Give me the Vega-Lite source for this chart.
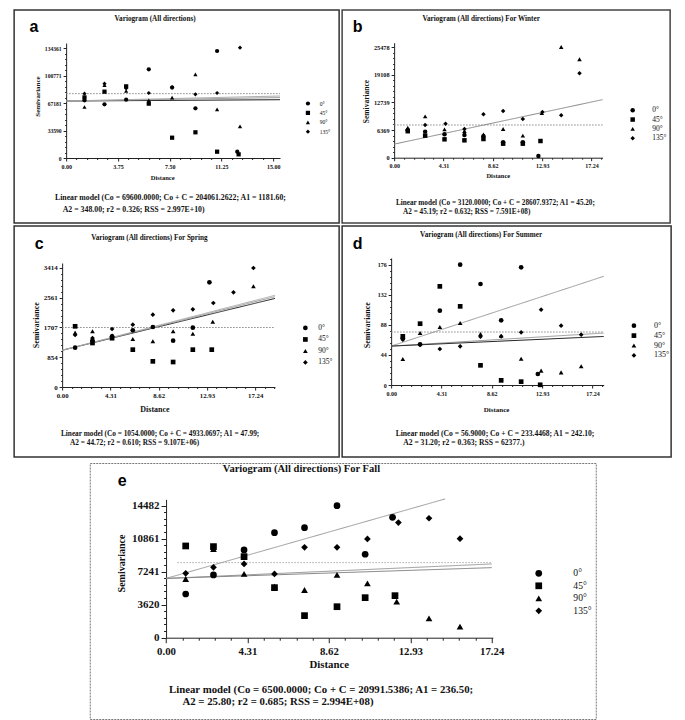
{
  "$schema": "https://vega.github.io/schema/vega-lite/v6.json",
  "padding": {"left": 13, "top": 9, "right": 0, "bottom": 0},
  "background": "white",
  "config": {
    "axis": {"labelFont": "Liberation Serif", "titleFont": "Liberation Serif", "labelFontWeight": "bold", "titleFontWeight": "bold", "labelColor": "#111", "titleColor": "#111", "domainColor": "#222", "tickColor": "#222", "grid": false, "labelFlush": false, "labelOverlap": false, "labelPadding": 2, "tickSize": 3, "domainWidth": 1, "tickWidth": 1},
    "legend": {"orient": "none", "title": null, "padding": 0, "labelFont": "Liberation Serif", "labelColor": "#111", "symbolFillColor": "black", "symbolStrokeColor": "black", "symbolStrokeWidth": 0}
  },
  "datasets": {
    "pointsA": [
      {"dist": 1.33, "semivariance": 70400, "direction": "0°"}, {"dist": 1.33, "semivariance": 74000, "direction": "45°"}, {"dist": 1.33, "semivariance": 62300, "direction": "90°"}, {"dist": 1.33, "semivariance": 78600, "direction": "135°"},
      {"dist": 2.78, "semivariance": 65550, "direction": "0°"}, {"dist": 2.78, "semivariance": 81000, "direction": "45°"}, {"dist": 2.78, "semivariance": 89000, "direction": "90°"}, {"dist": 2.78, "semivariance": 90800, "direction": "135°"},
      {"dist": 4.35, "semivariance": 71250, "direction": "0°"}, {"dist": 4.35, "semivariance": 87500, "direction": "45°"}, {"dist": 4.35, "semivariance": 81800, "direction": "90°"}, {"dist": 4.35, "semivariance": 85100, "direction": "135°"},
      {"dist": 5.99, "semivariance": 108300, "direction": "0°"}, {"dist": 5.99, "semivariance": 66400, "direction": "45°"}, {"dist": 5.99, "semivariance": 70400, "direction": "90°"}, {"dist": 5.99, "semivariance": 79400, "direction": "135°"},
      {"dist": 7.68, "semivariance": 86000, "direction": "0°"}, {"dist": 7.68, "semivariance": 24800, "direction": "45°"}, {"dist": 7.68, "semivariance": 73700, "direction": "90°"}, {"dist": 7.68, "semivariance": 86600, "direction": "135°"},
      {"dist": 9.37, "semivariance": 60700, "direction": "0°"}, {"dist": 9.37, "semivariance": 31400, "direction": "45°"}, {"dist": 9.37, "semivariance": 102200, "direction": "90°"}, {"dist": 9.37, "semivariance": 77800, "direction": "135°"},
      {"dist": 10.94, "semivariance": 130700, "direction": "0°"}, {"dist": 10.94, "semivariance": 7700, "direction": "45°"}, {"dist": 10.94, "semivariance": 59500, "direction": "90°"}, {"dist": 10.94, "semivariance": 79400, "direction": "135°"},
      {"dist": 12.4, "semivariance": 7700, "direction": "0°"}, {"dist": 12.5, "semivariance": 4500, "direction": "45°"}, {"dist": 12.6, "semivariance": 38700, "direction": "90°"}, {"dist": 12.6, "semivariance": 134800, "direction": "135°"}
    ],
    "linesA": [
      {"model": "fit1", "dist": 0, "semivariance": 69600}, {"model": "fit1", "dist": 15.5, "semivariance": 71200},
      {"model": "fit2", "dist": 0, "semivariance": 69600}, {"model": "fit2", "dist": 15.5, "semivariance": 73800},
      {"model": "fit3", "dist": 0, "semivariance": 69600}, {"model": "fit3", "dist": 15.5, "semivariance": 75700},
      {"model": "variance", "dist": 0, "semivariance": 78600}, {"model": "variance", "dist": 15.5, "semivariance": 78600}
    ],
    "pointsB": [
      {"dist": 1.19, "semivariance": 6300, "direction": "0°"}, {"dist": 1.19, "semivariance": 6100, "direction": "45°"}, {"dist": 1.19, "semivariance": 6900, "direction": "90°"}, {"dist": 1.19, "semivariance": 6500, "direction": "135°"},
      {"dist": 2.71, "semivariance": 6000, "direction": "0°"}, {"dist": 2.71, "semivariance": 5070, "direction": "45°"}, {"dist": 2.71, "semivariance": 9520, "direction": "90°"}, {"dist": 2.71, "semivariance": 7530, "direction": "135°"},
      {"dist": 4.4, "semivariance": 5380, "direction": "0°"}, {"dist": 4.4, "semivariance": 4230, "direction": "45°"}, {"dist": 4.4, "semivariance": 6530, "direction": "90°"}, {"dist": 4.49, "semivariance": 7835, "direction": "135°"},
      {"dist": 6.14, "semivariance": 5225, "direction": "0°"}, {"dist": 6.14, "semivariance": 4000, "direction": "45°"}, {"dist": 6.14, "semivariance": 6150, "direction": "90°"}, {"dist": 6.14, "semivariance": 6600, "direction": "135°"},
      {"dist": 7.8, "semivariance": 4920, "direction": "0°"}, {"dist": 7.8, "semivariance": 4300, "direction": "45°"}, {"dist": 7.8, "semivariance": 5380, "direction": "90°"}, {"dist": 7.8, "semivariance": 9980, "direction": "135°"},
      {"dist": 9.52, "semivariance": 3540, "direction": "0°"}, {"dist": 9.52, "semivariance": 3230, "direction": "45°"}, {"dist": 9.52, "semivariance": 6600, "direction": "90°"}, {"dist": 9.52, "semivariance": 10750, "direction": "135°"},
      {"dist": 11.24, "semivariance": 3540, "direction": "0°"}, {"dist": 11.24, "semivariance": 3230, "direction": "45°"}, {"dist": 11.24, "semivariance": 5070, "direction": "90°"}, {"dist": 11.24, "semivariance": 8900, "direction": "135°"},
      {"dist": 12.6, "semivariance": 390, "direction": "0°"}, {"dist": 12.78, "semivariance": 3840, "direction": "45°"}, {"dist": 12.9, "semivariance": 10300, "direction": "90°"}, {"dist": 12.95, "semivariance": 10520, "direction": "135°"},
      {"dist": 14.59, "semivariance": 25480, "direction": "90°"}, {"dist": 14.59, "semivariance": 9750, "direction": "135°"},
      {"dist": 16.19, "semivariance": 22650, "direction": "90°"}, {"dist": 16.19, "semivariance": 19420, "direction": "135°"}
    ],
    "linesB": [
      {"model": "fit1", "dist": 0, "semivariance": 3120}, {"model": "fit1", "dist": 18.2, "semivariance": 13360},
      {"model": "variance", "dist": 0, "semivariance": 7530}, {"model": "variance", "dist": 18.2, "semivariance": 7530}
    ],
    "pointsC": [
      {"dist": 1.16, "semivariance": 1128, "direction": "0°"}, {"dist": 1.16, "semivariance": 1741, "direction": "45°"}, {"dist": 1.16, "semivariance": 1560, "direction": "90°"}, {"dist": 1.16, "semivariance": 1492, "direction": "135°"},
      {"dist": 2.71, "semivariance": 1340, "direction": "0°"}, {"dist": 2.71, "semivariance": 1262, "direction": "45°"}, {"dist": 2.71, "semivariance": 1597, "direction": "90°"}, {"dist": 2.71, "semivariance": 1406, "direction": "135°"},
      {"dist": 4.46, "semivariance": 1450, "direction": "0°"}, {"dist": 4.46, "semivariance": 1400, "direction": "45°"}, {"dist": 4.46, "semivariance": 1480, "direction": "90°"}, {"dist": 4.46, "semivariance": 1664, "direction": "135°"},
      {"dist": 6.31, "semivariance": 1626, "direction": "0°"}, {"dist": 6.31, "semivariance": 1071, "direction": "45°"}, {"dist": 6.31, "semivariance": 1377, "direction": "90°"}, {"dist": 6.31, "semivariance": 1788, "direction": "135°"},
      {"dist": 8.1, "semivariance": 1721, "direction": "0°"}, {"dist": 8.1, "semivariance": 736, "direction": "45°"}, {"dist": 8.1, "semivariance": 1310, "direction": "90°"}, {"dist": 8.1, "semivariance": 2075, "direction": "135°"},
      {"dist": 9.91, "semivariance": 1330, "direction": "0°"}, {"dist": 9.91, "semivariance": 717, "direction": "45°"}, {"dist": 9.91, "semivariance": 1597, "direction": "90°"}, {"dist": 9.91, "semivariance": 2200, "direction": "135°"},
      {"dist": 11.67, "semivariance": 1702, "direction": "0°"}, {"dist": 11.67, "semivariance": 1071, "direction": "45°"}, {"dist": 11.67, "semivariance": 1530, "direction": "90°"}, {"dist": 11.67, "semivariance": 2228, "direction": "135°"},
      {"dist": 13.15, "semivariance": 3003, "direction": "0°"}, {"dist": 13.36, "semivariance": 1071, "direction": "45°"}, {"dist": 13.45, "semivariance": 1874, "direction": "90°"}, {"dist": 13.5, "semivariance": 2410, "direction": "135°"},
      {"dist": 15.3, "semivariance": 2716, "direction": "135°"},
      {"dist": 17.08, "semivariance": 2888, "direction": "90°"}, {"dist": 17.08, "semivariance": 3414, "direction": "135°"}
    ],
    "linesC": [
      {"model": "fit1", "dist": 0, "semivariance": 1054}, {"model": "fit1", "dist": 19, "semivariance": 2540},
      {"model": "fit2", "dist": 0, "semivariance": 1054}, {"model": "fit2", "dist": 19, "semivariance": 2590},
      {"model": "fit3", "dist": 0, "semivariance": 1054}, {"model": "fit3", "dist": 19, "semivariance": 2630},
      {"model": "variance", "dist": 0, "semivariance": 1707}, {"model": "variance", "dist": 19, "semivariance": 1707}
    ],
    "pointsD": [
      {"dist": 1.0, "semivariance": 68.5, "direction": "0°"}, {"dist": 1.0, "semivariance": 71.2, "direction": "45°"}, {"dist": 1.0, "semivariance": 38.0, "direction": "90°"}, {"dist": 1.0, "semivariance": 66.3, "direction": "135°"},
      {"dist": 2.48, "semivariance": 59.5, "direction": "0°"}, {"dist": 2.48, "semivariance": 89.7, "direction": "45°"}, {"dist": 2.48, "semivariance": 76.1, "direction": "90°"}, {"dist": 2.48, "semivariance": 58.5, "direction": "135°"},
      {"dist": 4.17, "semivariance": 108.7, "direction": "0°"}, {"dist": 4.17, "semivariance": 144.3, "direction": "45°"}, {"dist": 4.17, "semivariance": 84.9, "direction": "90°"}, {"dist": 4.17, "semivariance": 52.7, "direction": "135°"},
      {"dist": 5.91, "semivariance": 176.0, "direction": "0°"}, {"dist": 5.91, "semivariance": 115.1, "direction": "45°"}, {"dist": 5.91, "semivariance": 90.7, "direction": "90°"}, {"dist": 5.91, "semivariance": 56.6, "direction": "135°"},
      {"dist": 7.65, "semivariance": 147.8, "direction": "0°"}, {"dist": 7.65, "semivariance": 28.8, "direction": "45°"}, {"dist": 7.65, "semivariance": 74.6, "direction": "90°"}, {"dist": 7.65, "semivariance": 70.7, "direction": "135°"},
      {"dist": 9.42, "semivariance": 94.6, "direction": "0°"}, {"dist": 9.42, "semivariance": 6.8, "direction": "45°"}, {"dist": 9.42, "semivariance": 72.0, "direction": "90°"}, {"dist": 9.42, "semivariance": 71.2, "direction": "135°"},
      {"dist": 11.13, "semivariance": 172.1, "direction": "0°"}, {"dist": 11.13, "semivariance": 4.9, "direction": "45°"}, {"dist": 11.13, "semivariance": 38.5, "direction": "90°"}, {"dist": 11.13, "semivariance": 77.1, "direction": "135°"},
      {"dist": 12.56, "semivariance": 16.1, "direction": "0°"}, {"dist": 12.76, "semivariance": 0.3, "direction": "45°"}, {"dist": 12.84, "semivariance": 21.0, "direction": "90°"}, {"dist": 12.84, "semivariance": 110.2, "direction": "135°"},
      {"dist": 14.55, "semivariance": 18.5, "direction": "90°"}, {"dist": 14.55, "semivariance": 86.8, "direction": "135°"},
      {"dist": 16.27, "semivariance": 27.3, "direction": "90°"}, {"dist": 16.27, "semivariance": 73.6, "direction": "135°"}
    ],
    "linesD": [
      {"model": "fit1", "dist": 0, "semivariance": 56.9}, {"model": "fit1", "dist": 18.2, "semivariance": 159},
      {"model": "fit2", "dist": 0, "semivariance": 56.9}, {"model": "fit2", "dist": 18.2, "semivariance": 76},
      {"model": "fit3", "dist": 0, "semivariance": 56.9}, {"model": "fit3", "dist": 18.2, "semivariance": 71},
      {"model": "variance", "dist": 0, "semivariance": 77.5}, {"model": "variance", "dist": 18.2, "semivariance": 77.5}
    ],
    "pointsE": [
      {"dist": 1.04, "semivariance": 4790, "direction": "0°"}, {"dist": 1.04, "semivariance": 10060, "direction": "45°"}, {"dist": 1.04, "semivariance": 6440, "direction": "90°"}, {"dist": 1.04, "semivariance": 7060, "direction": "135°"},
      {"dist": 2.51, "semivariance": 6880, "direction": "0°"}, {"dist": 2.51, "semivariance": 9990, "direction": "45°"}, {"dist": 2.51, "semivariance": 9730, "direction": "90°"}, {"dist": 2.51, "semivariance": 7720, "direction": "135°"},
      {"dist": 4.13, "semivariance": 9620, "direction": "0°"}, {"dist": 4.13, "semivariance": 8890, "direction": "45°"}, {"dist": 4.13, "semivariance": 6990, "direction": "90°"}, {"dist": 4.13, "semivariance": 8090, "direction": "135°"},
      {"dist": 5.74, "semivariance": 11520, "direction": "0°"}, {"dist": 5.74, "semivariance": 5490, "direction": "45°"}, {"dist": 5.74, "semivariance": 5600, "direction": "90°"}, {"dist": 5.74, "semivariance": 6990, "direction": "135°"},
      {"dist": 7.33, "semivariance": 12070, "direction": "0°"}, {"dist": 7.33, "semivariance": 2420, "direction": "45°"}, {"dist": 7.33, "semivariance": 5230, "direction": "90°"}, {"dist": 7.33, "semivariance": 9910, "direction": "135°"},
      {"dist": 9.05, "semivariance": 14480, "direction": "0°"}, {"dist": 9.05, "semivariance": 3400, "direction": "45°"}, {"dist": 9.05, "semivariance": 6880, "direction": "90°"}, {"dist": 9.05, "semivariance": 9910, "direction": "135°"},
      {"dist": 10.54, "semivariance": 9150, "direction": "0°"}, {"dist": 10.54, "semivariance": 4390, "direction": "45°"}, {"dist": 10.66, "semivariance": 5960, "direction": "90°"}, {"dist": 10.66, "semivariance": 10830, "direction": "135°"},
      {"dist": 11.99, "semivariance": 13200, "direction": "0°"}, {"dist": 12.12, "semivariance": 4610, "direction": "45°"}, {"dist": 12.21, "semivariance": 3950, "direction": "90°"}, {"dist": 12.3, "semivariance": 12620, "direction": "135°"},
      {"dist": 13.92, "semivariance": 2125, "direction": "90°"}, {"dist": 13.92, "semivariance": 13100, "direction": "135°"},
      {"dist": 15.56, "semivariance": 1210, "direction": "90°"}, {"dist": 15.56, "semivariance": 10860, "direction": "135°"}
    ],
    "linesE": [
      {"model": "fit1", "dist": 0, "semivariance": 6500}, {"model": "fit1", "dist": 14.77, "semivariance": 15215},
      {"model": "fit2", "dist": 0, "semivariance": 6500}, {"model": "fit2", "dist": 17.24, "semivariance": 8085},
      {"model": "fit3", "dist": 0, "semivariance": 6500}, {"model": "fit3", "dist": 17.24, "semivariance": 7682},
      {"model": "variance", "dist": 0.6, "semivariance": 8230}, {"model": "variance", "dist": 17.24, "semivariance": 8230}
    ]
  },
  "vconcat": [
    {
      "vconcat": [
        {
          "hconcat": [
            {
              "width": 325, "height": 213,
              "view": {"stroke": "#333", "strokeWidth": 1.5},
              "title": {"text": "Variogram (All directions)", "frame": "group", "anchor": "middle", "dx": -21.5, "offset": -16, "baseline": "middle", "font": "Liberation Serif", "fontSize": 7.2, "fontWeight": "bold", "color": "#111"},
              "resolve": {"axis": {"x": "independent", "y": "independent"}},
              "layer": [
                {
                  "data": {"name": "linesA"},
                  "mark": {"type": "line", "strokeWidth": 1},
                  "encoding": {
                    "x": {"field": "dist", "type": "quantitative", "scale": {"domain": [0, 15.5], "range": [52, 265.9], "nice": false, "zero": false},
                      "axis": {"orient": "bottom", "offset": -65, "values": [0.75,1.5,2.25,3,4.5,5.25,6,6.75,8.25,9,9.75,10.5,12,12.75,13.5,14.25], "labels": false, "domain": false, "tickSize": 1.5,
                        "title": ["Linear model (Co = 69600.0000; Co + C = 204061.2622; A1 = 1181.60;", "\u200b\u00a0\u00a0\u00a0\u00a0A2 = 348.00; r2 = 0.326; RSS = 2.997E+10)"],
                        "titleX": 40.3, "titleY": 35.3, "titleAlign": "left", "titleBaseline": "top", "titleFontSize": 7.8, "titleLineHeight": 12}},
                    "y": {"field": "semivariance", "type": "quantitative", "scale": {"domain": [0, 140470], "range": [148, 33], "nice": false, "zero": false},
                      "axis": {"orient": "left", "offset": -52, "values": [6718,13436,20154,26872,40308,47026,53744,60462,73899,80617,87335,94053,107489,114207,120925,127643], "labels": false, "domain": false, "tickSize": 1.5,
                        "title": "a", "titleAngle": 0, "titleX": -32.7, "titleY": 16.5, "titleAlign": "center", "titleBaseline": "middle", "titleFont": "Liberation Sans", "titleFontSize": 16, "titleFontWeight": "bold", "titleColor": "black"}},
                    "color": {"field": "model", "type": "nominal", "scale": {"domain": ["fit1","fit2","fit3","variance"], "range": ["#111","#999","#aaa","#888"]}, "legend": null},
                    "strokeDash": {"field": "model", "type": "nominal", "scale": {"domain": ["fit1","fit2","fit3","variance"], "range": [[1,0],[1,0],[1,0],[1.5,1.5]]}, "legend": null}
                  }
                },
                {
                  "data": {"name": "pointsA"},
                  "mark": {"type": "point", "filled": true, "opacity": 1, "size": 18, "color": "black"},
                  "encoding": {
                    "x": {"field": "dist", "type": "quantitative", "scale": {"domain": [0, 15.5], "range": [52, 265.9], "nice": false, "zero": false},
                      "axis": {"orient": "bottom", "offset": -65, "values": [0, 3.75, 7.5, 11.25, 15], "format": ".2f", "labelFontSize": 6, "title": "Distance", "titleX": 148, "titleY": 19.7, "titleAlign": "center", "titleBaseline": "middle", "titleFontSize": 6.5}},
                    "y": {"field": "semivariance", "type": "quantitative", "scale": {"domain": [0, 140470], "range": [148, 33], "nice": false, "zero": false},
                      "axis": {"orient": "left", "offset": -52, "values": [0, 33590, 67181, 100771, 134361], "format": "d", "labelFontSize": 5.6, "title": "Semivariance", "titleX": -29, "titleY": 86, "titleAngle": -90, "titleAlign": "center", "titleBaseline": "middle", "titleFontSize": 7}},
                    "shape": {"field": "direction", "type": "nominal", "scale": {"domain": ["0°","45°","90°","135°"], "range": ["circle","square","triangle-up","diamond"]},
                      "legend": {"legendX": 291, "legendY": 90.7, "symbolSize": 18, "labelFontSize": 5.6, "labelOffset": 9, "rowPadding": 2.4}}
                  }
                }
              ]
            },
            {
              "width": 328, "height": 213,
              "view": {"stroke": "#444", "strokeWidth": 1.5},
              "title": {"text": "Variogram (All directions) For Winter", "frame": "group", "anchor": "middle", "dx": -25, "offset": -16, "baseline": "middle", "font": "Liberation Serif", "fontSize": 7.2, "fontWeight": "bold", "color": "#111"},
              "resolve": {"axis": {"x": "independent", "y": "independent"}},
              "layer": [
                {
                  "data": {"name": "linesB"},
                  "mark": {"type": "line", "strokeWidth": 1},
                  "encoding": {
                    "x": {"field": "dist", "type": "quantitative", "scale": {"domain": [0, 18.2], "range": [52, 260.4], "nice": false, "zero": false},
                      "axis": {"orient": "bottom", "offset": -65.3, "values": [0.862,1.724,2.586,3.448,5.172,6.034,6.896,7.758,9.482,10.344,11.206,12.068,13.792,14.654,15.516,16.378,18.102], "labels": false, "domain": false, "tickSize": 1.5,
                        "title": ["Linear model (Co = 3120.0000; Co + C = 28607.9372; A1 = 45.20;", "\u200b\u00a0\u00a0\u00a0\u00a0A2 = 45.19; r2 = 0.632; RSS = 7.591E+08)"],
                        "titleX": 53.3, "titleY": 40.5, "titleAlign": "left", "titleBaseline": "top", "titleFontSize": 7.2, "titleLineHeight": 9.5}},
                    "y": {"field": "semivariance", "type": "quantitative", "scale": {"domain": [0, 26470], "range": [147.7, 32.7], "nice": false, "zero": false},
                      "axis": {"orient": "left", "offset": -52, "values": [1274,2548,3822,5096,7643,8917,10191,11465,14013,15287,16561,17835,20382,21656,22930,24204], "labels": false, "domain": false, "tickSize": 1.5,
                        "title": "b", "titleAngle": 0, "titleX": -37, "titleY": 16, "titleAlign": "center", "titleBaseline": "middle", "titleFont": "Liberation Sans", "titleFontSize": 16, "titleFontWeight": "bold", "titleColor": "black"}},
                    "color": {"field": "model", "type": "nominal", "scale": {"domain": ["fit1","variance"], "range": ["#888","#888"]}, "legend": null},
                    "strokeDash": {"field": "model", "type": "nominal", "scale": {"domain": ["fit1","variance"], "range": [[1,0],[1.5,1.5]]}, "legend": null}
                  }
                },
                {
                  "data": {"name": "pointsB"},
                  "mark": {"type": "point", "filled": true, "opacity": 1, "size": 20, "color": "black"},
                  "encoding": {
                    "x": {"field": "dist", "type": "quantitative", "scale": {"domain": [0, 18.2], "range": [52, 260.4], "nice": false, "zero": false},
                      "axis": {"orient": "bottom", "offset": -65.3, "values": [0, 4.31, 8.62, 12.93, 17.24], "format": ".2f", "labelFontSize": 6, "title": "Distance", "titleX": 155.7, "titleY": 17.3, "titleAlign": "center", "titleBaseline": "middle", "titleFontSize": 6.5}},
                    "y": {"field": "semivariance", "type": "quantitative", "scale": {"domain": [0, 26470], "range": [147.7, 32.7], "nice": false, "zero": false},
                      "axis": {"orient": "left", "offset": -52, "values": [0, 6369, 12739, 19108, 25478], "format": "d", "labelFontSize": 6.3, "title": "Semivariance", "titleX": -28, "titleY": 91, "titleAngle": -90, "titleAlign": "center", "titleBaseline": "middle", "titleFontSize": 7.5}},
                    "shape": {"field": "direction", "type": "nominal", "scale": {"domain": ["0°","45°","90°","135°"], "range": ["circle","square","triangle-up","diamond"]},
                      "legend": {"legendX": 286.8, "legendY": 96.5, "symbolSize": 20, "labelFontSize": 7.5, "labelOffset": 15.7, "rowPadding": 0.3}}
                  }
                }
              ]
            }
          ],
          "spacing": 3, "bounds": "flush",
          "resolve": {"scale": {"color": "independent", "strokeDash": "independent", "shape": "independent"}, "legend": {"shape": "independent", "color": "independent", "strokeDash": "independent"}}
        },
        {
          "hconcat": [
            {
              "width": 325, "height": 231,
              "view": {"stroke": "#333", "strokeWidth": 1.5},
              "title": {"text": "Variogram (All directions) For Spring", "frame": "group", "anchor": "middle", "dx": -27.2, "offset": -19.5, "baseline": "middle", "font": "Liberation Serif", "fontSize": 7.2, "fontWeight": "bold", "color": "#111"},
              "resolve": {"axis": {"x": "independent", "y": "independent"}},
              "layer": [
                {
                  "data": {"name": "linesC"},
                  "mark": {"type": "line", "strokeWidth": 1},
                  "encoding": {
                    "x": {"field": "dist", "type": "quantitative", "scale": {"domain": [0, 19], "range": [48, 260.8], "nice": false, "zero": false},
                      "axis": {"orient": "bottom", "offset": -70, "values": [0.862,1.724,2.586,3.448,5.172,6.034,6.896,7.758,9.482,10.344,11.206,12.068,13.792,14.654,15.516,16.378,18.102,18.964], "labels": false, "domain": false, "tickSize": 1.5,
                        "title": ["Linear model (Co = 1054.0000; Co + C = 4933.0697; A1 = 47.99;", "\u200b\u00a0\u00a0\u00a0\u00a0\u00a0A2 = 44.72; r2 = 0.610; RSS = 9.107E+06)"],
                        "titleX": 46.3, "titleY": 42.3, "titleAlign": "left", "titleBaseline": "top", "titleFontSize": 7.3, "titleLineHeight": 9.7}},
                    "y": {"field": "semivariance", "type": "quantitative", "scale": {"domain": [0, 3557], "range": [161, 37], "nice": false, "zero": false},
                      "axis": {"orient": "left", "offset": -48, "values": [171,341,512,683,1024,1195,1366,1536,1878,2048,2219,2390,2731,2902,3073,3243], "labels": false, "domain": false, "tickSize": 1.5,
                        "title": "c", "titleAngle": 0, "titleX": -23.3, "titleY": 17.7, "titleAlign": "center", "titleBaseline": "middle", "titleFont": "Liberation Sans", "titleFontSize": 16, "titleFontWeight": "bold", "titleColor": "black"}},
                    "color": {"field": "model", "type": "nominal", "scale": {"domain": ["fit1","fit2","fit3","variance"], "range": ["#222","#999","#aaa","#888"]}, "legend": null},
                    "strokeDash": {"field": "model", "type": "nominal", "scale": {"domain": ["fit1","fit2","fit3","variance"], "range": [[1,0],[1,0],[1,0],[1.5,1.5]]}, "legend": null}
                  }
                },
                {
                  "data": {"name": "pointsC"},
                  "mark": {"type": "point", "filled": true, "opacity": 1, "size": 22, "color": "black"},
                  "encoding": {
                    "x": {"field": "dist", "type": "quantitative", "scale": {"domain": [0, 19], "range": [48, 260.8], "nice": false, "zero": false},
                      "axis": {"orient": "bottom", "offset": -70, "values": [0, 4.31, 8.62, 12.93, 17.24], "format": ".2f", "labelFontSize": 6.8, "title": "Distance", "titleX": 140.3, "titleY": 22.7, "titleAlign": "center", "titleBaseline": "middle", "titleFontSize": 8}},
                    "y": {"field": "semivariance", "type": "quantitative", "scale": {"domain": [0, 3557], "range": [161, 37], "nice": false, "zero": false},
                      "axis": {"orient": "left", "offset": -48, "values": [0, 854, 1707, 2561, 3414], "format": "d", "labelFontSize": 7, "title": "Semivariance", "titleX": -26, "titleY": 98.7, "titleAngle": -90, "titleAlign": "center", "titleBaseline": "middle", "titleFontSize": 8}},
                    "shape": {"field": "direction", "type": "nominal", "scale": {"domain": ["0°","45°","90°","135°"], "range": ["circle","square","triangle-up","diamond"]},
                      "legend": {"legendX": 287.5, "legendY": 98.2, "symbolSize": 22, "labelFontSize": 7.5, "labelOffset": 9, "rowPadding": 2.5}}
                  }
                }
              ]
            },
            {
              "width": 329, "height": 231,
              "view": {"stroke": "#333", "strokeWidth": 1.5},
              "title": {"text": "Variogram (All directions) For Summer", "frame": "group", "anchor": "middle", "dx": -25.5, "offset": -16.3, "baseline": "middle", "font": "Liberation Serif", "fontSize": 7.2, "fontWeight": "bold", "color": "#111"},
              "resolve": {"axis": {"x": "independent", "y": "independent"}},
              "layer": [
                {
                  "data": {"name": "linesD"},
                  "mark": {"type": "line", "strokeWidth": 1},
                  "encoding": {
                    "x": {"field": "dist", "type": "quantitative", "scale": {"domain": [0, 18.2], "range": [49, 261.6], "nice": false, "zero": false},
                      "axis": {"orient": "bottom", "offset": -72, "values": [0.862,1.724,2.586,3.448,5.172,6.034,6.896,7.758,9.482,10.344,11.206,12.068,13.792,14.654,15.516,16.378,18.102], "labels": false, "domain": false, "tickSize": 1.5,
                        "title": ["Linear model (Co = 56.9000; Co + C = 233.4468; A1 = 242.10;", "\u200b\u00a0\u00a0\u00a0\u00a0A2 = 31.20; r2 = 0.363; RSS = 62377.)"],
                        "titleX": 53, "titleY": 44.2, "titleAlign": "left", "titleBaseline": "top", "titleFontSize": 7.6, "titleLineHeight": 9.7}},
                    "y": {"field": "semivariance", "type": "quantitative", "scale": {"domain": [0, 185.8], "range": [159, 32], "nice": false, "zero": false},
                      "axis": {"orient": "left", "offset": -49, "values": [8.8,17.6,26.4,35.2,52.8,61.6,70.4,79.2,96.8,105.6,114.4,123.2,140.8,149.6,158.4,167.2,184.8], "labels": false, "domain": false, "tickSize": 1.5,
                        "title": "d", "titleAngle": 0, "titleX": -34, "titleY": 17.7, "titleAlign": "center", "titleBaseline": "middle", "titleFont": "Liberation Sans", "titleFontSize": 16, "titleFontWeight": "bold", "titleColor": "black"}},
                    "color": {"field": "model", "type": "nominal", "scale": {"domain": ["fit1","fit2","fit3","variance"], "range": ["#999","#999","#222","#888"]}, "legend": null},
                    "strokeDash": {"field": "model", "type": "nominal", "scale": {"domain": ["fit1","fit2","fit3","variance"], "range": [[1,0],[1,0],[1,0],[1.5,1.5]]}, "legend": null}
                  }
                },
                {
                  "data": {"name": "pointsD"},
                  "mark": {"type": "point", "filled": true, "opacity": 1, "size": 22, "color": "black"},
                  "encoding": {
                    "x": {"field": "dist", "type": "quantitative", "scale": {"domain": [0, 18.2], "range": [49, 261.6], "nice": false, "zero": false},
                      "axis": {"orient": "bottom", "offset": -72, "values": [0, 4.31, 8.62, 12.93, 17.24], "format": ".2f", "labelFontSize": 6, "title": "Distance", "titleX": 154, "titleY": 24.7, "titleAlign": "center", "titleBaseline": "middle", "titleFontSize": 7}},
                    "y": {"field": "semivariance", "type": "quantitative", "scale": {"domain": [0, 185.8], "range": [159, 32], "nice": false, "zero": false},
                      "axis": {"orient": "left", "offset": -49, "values": [0, 44, 88, 132, 176], "format": "d", "labelFontSize": 6, "title": "Semivariance", "titleX": -23.3, "titleY": 98.7, "titleAngle": -90, "titleAlign": "center", "titleBaseline": "middle", "titleFontSize": 8}},
                    "shape": {"field": "direction", "type": "nominal", "scale": {"domain": ["0°","45°","90°","135°"], "range": ["circle","square","triangle-up","diamond"]},
                      "legend": {"legendX": 287.8, "legendY": 95.7, "symbolSize": 22, "labelFontSize": 8, "labelOffset": 16, "rowPadding": 1.9}}
                  }
                }
              ]
            }
          ],
          "spacing": 3, "bounds": "flush",
          "resolve": {"scale": {"color": "independent", "strokeDash": "independent", "shape": "independent"}, "legend": {"shape": "independent", "color": "independent", "strokeDash": "independent"}}
        }
      ],
      "spacing": 1,
      "resolve": {"scale": {"color": "independent", "strokeDash": "independent", "shape": "independent"}, "legend": {"shape": "independent", "color": "independent", "strokeDash": "independent"}}
    },
    {
      "width": 506, "height": 256,
      "view": {"stroke": "#777", "strokeWidth": 1, "strokeDash": [2, 1]},
      "title": {"text": "Variogram (All directions) For Fall", "frame": "group", "anchor": "middle", "dx": -41.3, "offset": -16, "baseline": "middle", "font": "Liberation Serif", "fontSize": 10.5, "fontWeight": "bold", "color": "#111"},
      "resolve": {"axis": {"x": "independent", "y": "independent"}},
      "layer": [
        {
          "data": {"name": "linesE"},
          "mark": {"type": "line", "strokeWidth": 1},
          "encoding": {
            "x": {"field": "dist", "type": "quantitative", "scale": {"domain": [0, 17.3], "range": [76.3, 403.1], "nice": false, "zero": false},
              "axis": {"orient": "bottom", "offset": -81.3, "values": [0.862,1.724,2.586,3.448,5.172,6.034,6.896,7.758,9.482,10.344,11.206,12.068,13.792,14.654,15.516,16.378], "labels": false, "domain": false, "tickSize": 2.5,
                "title": ["Linear model (Co = 6500.0000; Co + C = 20991.5386; A1 = 236.50;", "\u200b\u00a0\u00a0\u00a0\u00a0\u00a0A2 = 25.80; r2 = 0.685; RSS = 2.994E+08)"],
                "titleX": 78.7, "titleY": 45.5, "titleAlign": "left", "titleBaseline": "top", "titleFontSize": 10.8, "titleLineHeight": 12.3}},
            "y": {"field": "semivariance", "type": "quantitative", "scale": {"domain": [0, 15177], "range": [174.7, 36.3], "nice": false, "zero": false},
              "axis": {"orient": "left", "offset": -76.3, "values": [724,1448,2172,2896,4344,5068,5792,6517,7965,8689,9413,10137,11585,12309,13033,13758], "labels": false, "domain": false, "tickSize": 2.5,
                "title": "e", "titleAngle": 0, "titleX": -44.3, "titleY": 17, "titleAlign": "center", "titleBaseline": "middle", "titleFont": "Liberation Sans", "titleFontSize": 16, "titleFontWeight": "bold", "titleColor": "black"}},
            "color": {"field": "model", "type": "nominal", "scale": {"domain": ["fit1","fit2","fit3","variance"], "range": ["#999","#999","#888","#aaa"]}, "legend": null},
            "strokeDash": {"field": "model", "type": "nominal", "scale": {"domain": ["fit1","fit2","fit3","variance"], "range": [[1,0],[1,0],[1,0],[1.5,1.5]]}, "legend": null}
          }
        },
        {
          "data": {"name": "pointsE"},
          "mark": {"type": "point", "filled": true, "opacity": 1, "size": 45, "color": "black"},
          "encoding": {
            "x": {"field": "dist", "type": "quantitative", "scale": {"domain": [0, 17.3], "range": [76.3, 403.1], "nice": false, "zero": false},
              "axis": {"orient": "bottom", "offset": -81.3, "values": [0, 4.31, 8.62, 12.93, 17.24], "format": ".2f", "labelFontSize": 10.8, "tickSize": 5, "labelPadding": 3, "title": "Distance", "titleX": 239, "titleY": 27, "titleAlign": "center", "titleBaseline": "middle", "titleFontSize": 10.8}},
            "y": {"field": "semivariance", "type": "quantitative", "scale": {"domain": [0, 15177], "range": [174.7, 36.3], "nice": false, "zero": false},
              "axis": {"orient": "left", "offset": -76.3, "values": [0, 3620, 7241, 10861, 14482], "format": "d", "labelFontSize": 11, "tickSize": 5, "labelPadding": 2, "title": "Semivariance", "titleX": -44.3, "titleY": 100, "titleAngle": -90, "titleAlign": "center", "titleBaseline": "middle", "titleFontSize": 10}},
            "shape": {"field": "direction", "type": "nominal", "scale": {"domain": ["0°","45°","90°","135°"], "range": ["circle","square","triangle-up","diamond"]},
              "legend": {"legendX": 444.2, "legendY": 105.5, "symbolSize": 45, "labelFontSize": 9.6, "labelOffset": 29.8, "rowPadding": 1.5}}
          }
        }
      ]
    }
  ],
  "spacing": 4,
  "center": true,
  "resolve": {"scale": {"color": "independent", "strokeDash": "independent", "shape": "independent"}, "legend": {"shape": "independent", "color": "independent", "strokeDash": "independent"}}
}
